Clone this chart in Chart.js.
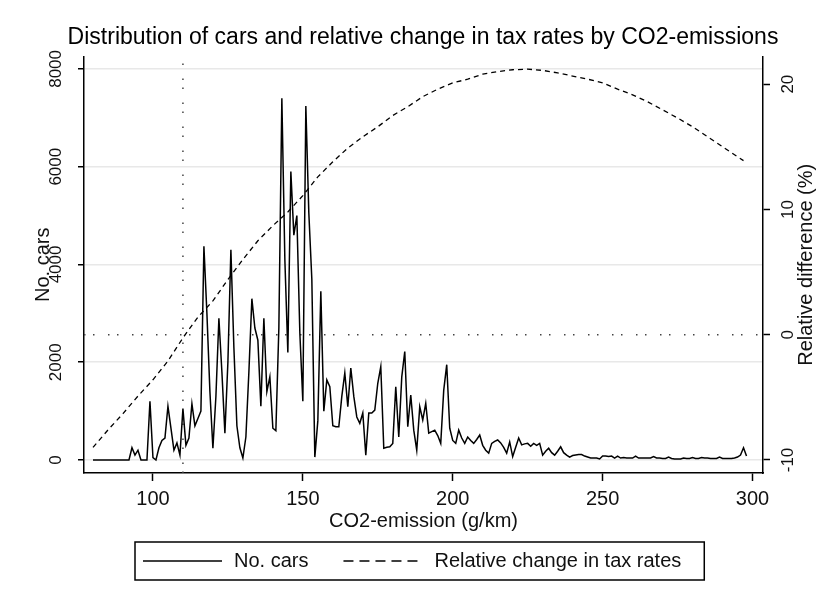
<!DOCTYPE html>
<html lang="en">
<head>
    <meta charset="UTF-8">
    <title>Distribution of cars and relative change in tax rates by CO2-emissions</title>
    <script src="https://cdn.jsdelivr.net/npm/chart.js"></script>
    <style>
        body {
            margin: 0;
            background: #fff;
        }
        .wrap {
            width: 827px;
            height: 606px;
        }
    </style>
</head>
<body>
    <div class="wrap"><canvas id="taxChart" width="827" height="606"></canvas></div>
    <script>
        // CO2-emission (g/km) for each count of cars
        let emission = [
            80, 81, 82, 83, 84, 85, 86, 87, 88, 89,
            90, 91, 92, 93, 94, 95, 96, 97, 98, 99,
            100, 101, 102, 103, 104, 105, 106, 107, 108, 109,
            110, 111, 112, 113, 114, 115, 116, 117, 118, 119,
            120, 121, 122, 123, 124, 125, 126, 127, 128, 129,
            130, 131, 132, 133, 134, 135, 136, 137, 138, 139,
            140, 141, 142, 143, 144, 145, 146, 147, 148, 149,
            150, 151, 152, 153, 154, 155, 156, 157, 158, 159,
            160, 161, 162, 163, 164, 165, 166, 167, 168, 169,
            170, 171, 172, 173, 174, 175, 176, 177, 178, 179,
            180, 181, 182, 183, 184, 185, 186, 187, 188, 189,
            190, 191, 192, 193, 194, 195, 196, 197, 198, 199,
            200, 201, 202, 203, 204, 205, 206, 207, 208, 209,
            210, 211, 212, 213, 214, 215, 216, 217, 218, 219,
            220, 221, 222, 223, 224, 225, 226, 227, 228, 229,
            230, 231, 232, 233, 234, 235, 236, 237, 238, 239,
            240, 241, 242, 243, 244, 245, 246, 247, 248, 249,
            250, 251, 252, 253, 254, 255, 256, 257, 258, 259,
            260, 261, 262, 263, 264, 265, 266, 267, 268, 269,
            270, 271, 272, 273, 274, 275, 276, 277, 278, 279,
            280, 281, 282, 283, 284, 285, 286, 287, 288, 289,
            290, 291, 292, 293, 294, 295, 296, 297, 298
        ];
        let cars = [
            0, 0, 0, 0, 0, 0, 0, 0, 0, 0,
            0, 0, 0, 250, 100, 200, 0, 0, 0, 1200,
            50, 0, 250, 400, 450, 1100, 650, 200, 350, 100,
            1050, 300, 450, 1150, 700, 850, 1000, 4370, 3000, 1400,
            240, 1300, 2900, 1800, 550, 2000, 4300, 2300, 700, 250,
            40, 470, 1800, 3300, 2700, 2450, 1100, 2900, 1400, 1700,
            650, 600, 2700, 7400, 4100, 2200, 5900, 4600, 5000, 2600,
            1200, 7240, 5050, 3700, 60, 800, 3450, 1000, 1640, 1500,
            700, 680, 680, 1300, 1780, 1090, 1880, 1300, 880, 750,
            960, 100, 960, 960, 1020, 1570, 1910, 240, 260, 270,
            340, 1500, 470, 1700, 2220, 680, 1330, 610, 200, 1090,
            820, 1160, 550, 580, 610, 500, 340, 1430, 1950, 650,
            400, 340, 610, 450, 340, 470, 400, 340, 420, 510,
            300, 200, 140, 340, 380, 410, 350, 260, 140, 370,
            70, 260, 450, 310, 330, 340, 280, 340, 300, 340,
            100, 180, 240, 150, 100, 180, 270, 150, 100, 60,
            90, 100, 110, 110, 80, 60, 40, 40, 40, 20,
            80, 80, 70, 80, 40, 80, 40, 50, 40, 40,
            40, 80, 40, 40, 40, 40, 40, 70, 40, 40,
            30, 30, 60, 30, 20, 20, 20, 40, 30, 30,
            50, 30, 30, 50, 40, 40, 30, 30, 30, 60,
            30, 30, 30, 30, 40, 60, 100, 250, 80
        ];

        // relative change in tax rates (%)
        let taxEmission = [80, 85, 90, 95, 100, 105, 110, 115, 120, 125, 130, 135, 140, 145, 150,
            155, 160, 165, 170, 175, 180, 185, 190, 195, 200, 205, 210, 215, 220, 225,
            230, 235, 240, 245, 250, 255, 260, 265, 270, 275, 280, 285, 290, 295, 297];
        let taxChange = [-9.0, -7.6, -6.3, -4.9, -3.6, -2.1, -0.25, 1.4, 2.7, 4.4, 6.0, 7.5, 8.7, 9.8, 11.1,
            12.6, 13.8, 14.9, 15.8, 16.6, 17.5, 18.2, 19.0, 19.6, 20.1, 20.4, 20.8, 21.0, 21.15, 21.2,
            21.1, 20.9, 20.65, 20.4, 20.1, 19.6, 19.15, 18.6, 17.95, 17.3, 16.6, 15.8, 15.0, 14.2, 13.9];

        let xTicks = [100, 150, 200, 250, 300];
        let carTicks = [0, 2000, 4000, 6000, 8000];
        let changeTicks = [-10, 0, 10, 20];

        // dotted reference lines
        let refEmission = 110;
        let refChange = 0;

        let xMin = 77, xMax = 303.5;
        let carMin = -266, carMax = 8252;
        let changeMin = -11.04, changeMax = 22.2;

        let rightTitle = "Relative difference (%)";
        let fontFamily = "'Liberation Sans', Arial, sans-serif";
        let dotted = [1.5, 7.5, 1.5, 13.5];

        Chart.defaults.font.family = fontFamily;
        Chart.defaults.color = "#111";

        function fixedTicks(values) {
            return scale => { scale.ticks = values.map(v => ({ value: v })); };
        }

        // right axis title reads bottom-to-top, and a boxed legend under the axis
        let stataExtras = {
            id: "stataExtras",
            afterDraw(chart) {
                let ctx = chart.ctx;
                let y1 = chart.scales.y1;
                ctx.save();
                ctx.font = "20px " + fontFamily;
                ctx.fillStyle = "#111";
                ctx.textAlign = "center";
                ctx.textBaseline = "middle";
                ctx.translate(806, (y1.top + y1.bottom) / 2);
                ctx.rotate(-Math.PI / 2);
                ctx.fillText(rightTitle, 0, 0);
                ctx.restore();

                let boxLeft = 135, boxTop = 542, boxHeight = 38;
                let midY = boxTop + boxHeight / 2;
                let cx = boxLeft + 8;
                let legendDash = [[], [10, 6]];
                ctx.save();
                ctx.font = "20px " + fontFamily;
                ctx.fillStyle = "#111";
                ctx.textAlign = "left";
                ctx.textBaseline = "middle";
                [0, 1].forEach(i => {
                    let ds = chart.data.datasets[i];
                    ctx.beginPath();
                    ctx.setLineDash(legendDash[i]);
                    ctx.lineWidth = 1.5;
                    ctx.strokeStyle = ds.borderColor;
                    ctx.moveTo(cx, midY);
                    ctx.lineTo(cx + 79, midY);
                    ctx.stroke();
                    ctx.setLineDash([]);
                    cx += 79 + 12;
                    ctx.fillText(ds.label, cx, midY);
                    cx += ctx.measureText(ds.label).width + 35;
                });
                let boxRight = cx - 35 + 23;
                ctx.lineWidth = 1.5;
                ctx.strokeStyle = "#000";
                ctx.strokeRect(boxLeft, boxTop, boxRight - boxLeft, boxHeight);
                ctx.restore();
            }
        };

        let ctx = document.getElementById("taxChart").getContext("2d");
        let taxChart = new Chart(ctx, {
            type: "line",
            data: {
                datasets: [{
                    label: "No. cars",
                    data: emission.map((g, i) => ({ x: g, y: cars[i] })),
                    yAxisID: "y",
                    borderColor: "#000",
                    borderWidth: 1.5,
                    pointRadius: 0,
                    tension: 0
                }, {
                    label: "Relative change in tax rates",
                    data: taxEmission.map((g, i) => ({ x: g, y: taxChange[i] })),
                    yAxisID: "y1",
                    borderColor: "#000",
                    borderWidth: 1.3,
                    borderDash: [5, 4],
                    pointRadius: 0,
                    tension: 0
                }, {
                    label: "ref x",
                    data: [{ x: refEmission, y: carMin }, { x: refEmission, y: carMax }],
                    yAxisID: "y",
                    borderColor: "#444",
                    borderWidth: 1.5,
                    borderDash: dotted,
                    pointRadius: 0
                }, {
                    label: "ref y",
                    data: [{ x: xMin, y: refChange }, { x: xMax, y: refChange }],
                    yAxisID: "y1",
                    borderColor: "#444",
                    borderWidth: 1.5,
                    borderDash: dotted,
                    pointRadius: 0
                }]
            },
            options: {
                responsive: false,
                animation: false,
                layout: { padding: { left: 19, right: 0, top: 0, bottom: 73 } },
                plugins: {
                    legend: { display: false },
                    tooltip: { enabled: false },
                    title: {
                        display: true,
                        text: "Distribution of cars and relative change in tax rates by CO2-emissions",
                        color: "#000",
                        font: { size: 23, weight: "normal" },
                        padding: { top: 24, bottom: 5 }
                    }
                },
                scales: {
                    x: {
                        type: "linear",
                        min: xMin,
                        max: xMax,
                        afterBuildTicks: fixedTicks(xTicks),
                        afterFit: s => { s.height = 60; },
                        grid: { drawOnChartArea: false, tickColor: "#000", tickLength: 8, tickWidth: 1.5 },
                        border: { color: "#000", width: 1.5 },
                        ticks: { font: { size: 20 }, padding: 6, maxRotation: 0, callback: v => String(v) },
                        title: { display: true, text: "CO2-emission (g/km)", font: { size: 20 }, padding: { top: 0, bottom: 0 } }
                    },
                    y: {
                        position: "left",
                        min: carMin,
                        max: carMax,
                        afterBuildTicks: fixedTicks(carTicks),
                        afterFit: s => { s.width = 65; },
                        grid: { color: "#e8e8e8", lineWidth: 1.5, tickColor: "#000", tickLength: 6, tickWidth: 1.5 },
                        border: { color: "#000", width: 1.5 },
                        ticks: { minRotation: 90, maxRotation: 90, crossAlign: "center", padding: 2.6, font: { size: 17 }, callback: v => String(v) },
                        title: { display: true, text: "No. cars", font: { size: 20 }, padding: { top: 12, bottom: 0 } }
                    },
                    y1: {
                        position: "right",
                        min: changeMin,
                        max: changeMax,
                        afterBuildTicks: fixedTicks(changeTicks),
                        afterFit: s => { s.width = 64; },
                        grid: { drawOnChartArea: false, tickColor: "#000", tickLength: 7, tickWidth: 1.5 },
                        border: { color: "#000", width: 1.5 },
                        ticks: { minRotation: 90, maxRotation: 90, crossAlign: "center", padding: 6.2, font: { size: 17 }, callback: v => String(v) }
                    }
                }
            },
            plugins: [stataExtras]
        });
    </script>
</body>
</html>
